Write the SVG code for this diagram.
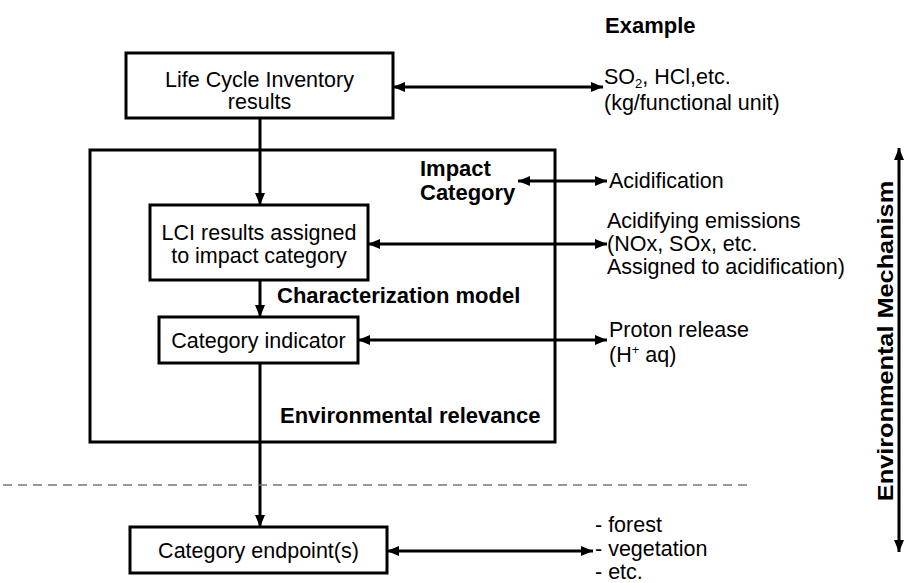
<svg xmlns="http://www.w3.org/2000/svg" width="906" height="583" viewBox="0 0 906 583">
<defs>
<style>
.box{fill:#fff;stroke:#000;stroke-width:3}
.ln{fill:none;stroke:#000;stroke-width:3}
.t{font-family:"Liberation Sans",Arial,sans-serif;font-size:21.5px;fill:#000}
.b{font-family:"Liberation Sans",Arial,sans-serif;font-size:22px;font-weight:bold;fill:#000}
.c{text-anchor:middle}
.dash{fill:none;stroke:#777;stroke-width:1.5;stroke-dasharray:9 6}
</style>
<marker id="ah" viewBox="0 0 12 10" refX="12" refY="5" markerWidth="12" markerHeight="10" markerUnits="userSpaceOnUse" orient="auto-start-reverse">
<path d="M0,0 L12,5 L0,10 Z" fill="#000"/>
</marker>
</defs>
<rect width="906" height="583" fill="#fff"/>

<g id="connectors">
<line class="ln" x1="393" y1="87" x2="603" y2="87" marker-start="url(#ah)" marker-end="url(#ah)"/>
<line class="ln" x1="260" y1="118" x2="260" y2="205" marker-end="url(#ah)"/>
<line class="ln" x1="518" y1="181" x2="607" y2="181" marker-start="url(#ah)" marker-end="url(#ah)"/>
<line class="ln" x1="368" y1="244" x2="607" y2="244" marker-start="url(#ah)" marker-end="url(#ah)"/>
<line class="ln" x1="260" y1="280" x2="260" y2="317" marker-end="url(#ah)"/>
<line class="ln" x1="358" y1="340" x2="607" y2="340" marker-start="url(#ah)" marker-end="url(#ah)"/>
<line class="ln" x1="260" y1="363" x2="260" y2="527" marker-end="url(#ah)"/>
<line class="ln" x1="387" y1="551" x2="593" y2="551" marker-start="url(#ah)" marker-end="url(#ah)"/>
<line class="ln" x1="899" y1="148" x2="899" y2="552" marker-start="url(#ah)" marker-end="url(#ah)"/>
<line class="dash" x1="3" y1="485" x2="750" y2="485"/>
</g>

<g id="impact-frame">
<rect class="ln" x="90" y="150" width="465" height="292"/>
<text class="b" x="420" y="176">Impact</text>
<text class="b" x="420" y="200">Category</text>
<text class="b" x="277" y="303">Characterization model</text>
<text class="b" x="280" y="423">Environmental relevance</text>
</g>

<g id="lci-results">
<rect class="box" x="126" y="53" width="267" height="65"/>
<text class="t c" x="259.5" y="87">Life Cycle Inventory</text>
<text class="t c" x="259.5" y="109">results</text>
</g>

<g id="lci-assigned">
<rect class="box" x="150" y="205" width="218" height="75"/>
<text class="t c" x="259" y="240">LCI results assigned</text>
<text class="t c" x="259" y="263">to impact category</text>
</g>

<g id="category-indicator">
<rect class="box" x="159" y="317" width="199" height="46"/>
<text class="t c" x="258.5" y="348">Category indicator</text>
</g>

<g id="category-endpoint">
<rect class="box" x="130" y="527" width="257" height="46"/>
<text class="t c" x="258.5" y="558">Category endpoint(s)</text>
</g>

<g id="examples">
<text class="b" x="605" y="33">Example</text>
<text class="t" x="604" y="84">SO<tspan font-size="13" dy="4">2</tspan><tspan dy="-4">, HCl,etc.</tspan></text>
<text class="t" x="604" y="110">(kg/functional unit)</text>
<text class="t" x="609" y="188">Acidification</text>
<text class="t" x="607" y="228">Acidifying emissions</text>
<text class="t" x="607" y="251">(NOx, SOx, etc.</text>
<text class="t" x="607" y="274">Assigned to acidification)</text>
<text class="t" x="609" y="337">Proton release</text>
<text class="t" x="609" y="362">(H<tspan font-size="13" dy="-8">+</tspan><tspan dy="8"> aq)</tspan></text>
<text class="t" x="595" y="532">- forest</text>
<text class="t" x="595" y="556">- vegetation</text>
<text class="t" x="595" y="579">- etc.</text>
</g>

<g id="environmental-mechanism">
<text class="b c" transform="translate(893,341) rotate(-90) scale(1.15,1)">Environmental Mechanism</text>
</g>
</svg>
